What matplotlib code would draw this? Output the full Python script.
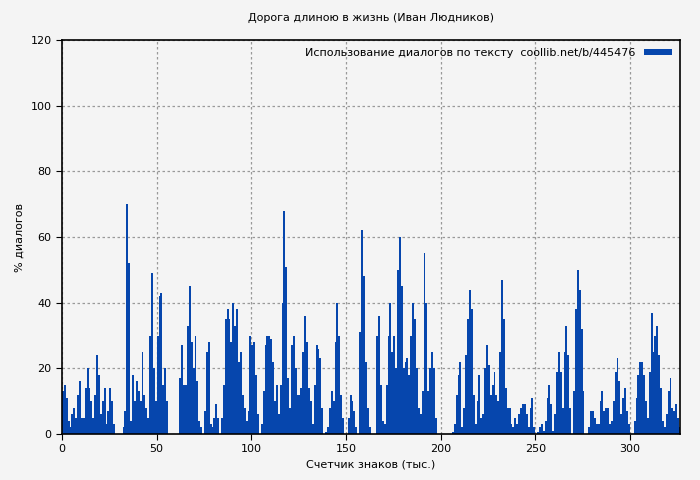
import numpy as np
import matplotlib
matplotlib.use("Agg")
import matplotlib.pyplot as plt

title = "Дорога длиною в жизнь (Иван Людников)"
xlabel = "Счетчик знаков (тыс.)"
ylabel = "% диалогов"
legend_label = "Использование диалогов по тексту  coollib.net/b/445476"

# (start in thousands of characters, values in %)
segments = [
    (0, [13, 15, 11, 4, 2, 6, 8, 5, 12, 16, 5, 5, 14, 20, 14, 10, 5, 12, 24, 18, 6, 10, 14, 3]),
    (24, [7, 14, 10, 3]),
    (32, [2, 7, 70, 52]),
    (36, [4, 18, 10, 16, 13, 10, 25, 12]),
    (44, [8, 5, 30, 49, 20, 10, 30, 42, 43, 15, 20, 10]),
    (62, [17, 27, 15, 15, 33, 45, 28, 20, 30, 16, 4, 2]),
    (75, [7, 25, 28, 3, 2, 5, 9, 5]),
    (84, [5, 15, 35, 38, 35, 28, 40, 33, 38, 22, 25, 12, 8, 4]),
    (98, [7, 30, 27, 28, 18, 6]),
    (105, [3, 13, 27, 30, 30, 29, 22, 10, 15, 6, 15, 40, 68, 51, 17]),
    (120, [8, 27, 30, 20, 12, 12, 14, 25, 36, 28, 14, 10, 3]),
    (133, [15, 27, 26, 23, 8]),
    (139, [0.5, 2, 8, 13, 4]),
    (143, [10, 28, 40, 30, 12, 5]),
    (151, [5, 12, 10, 7, 2]),
    (157, [31, 62, 48, 22, 8, 2]),
    (166, [30, 36, 15, 4]),
    (170, [3, 15, 30, 40, 25, 30, 20, 50, 60, 45, 20, 22, 23, 18, 30, 40, 35, 20, 8, 6, 13, 55, 40, 13, 20, 25, 20, 5]),
    (206, [0.5, 3, 12, 18, 22]),
    (211, [2, 8, 24, 35, 44, 38, 12, 3, 10, 18, 5]),
    (222, [6, 20, 27, 21, 12, 15, 19, 12, 10, 25, 47, 35, 14, 8, 8, 3]),
    (238, [2, 5, 3, 6, 8, 9, 9, 6, 2, 8, 11, 2]),
    (251, [0.5, 2, 3, 1]),
    (255, [4, 11, 15, 9, 1]),
    (260, [6, 19, 25, 19]),
    (264, [8, 25, 33, 24, 8]),
    (270, [13, 38, 50, 44, 32, 13]),
    (278, [2, 7, 7, 5, 3, 3, 10, 13, 7, 8, 8, 3]),
    (290, [4, 10, 19, 23, 16, 6, 11, 14, 7, 3]),
    (302, [4, 11, 18, 22, 22, 18, 10, 5]),
    (310, [19, 37, 25, 30, 33, 24, 14, 4]),
    (318, [2, 6, 13, 17, 8, 7, 9, 5, 2]),
]

values = np.zeros(327)
for start, vals in segments:
    values[start:start + len(vals)] = vals
positions = np.arange(len(values)) + 0.5

bg = "#f4f4f4"
blue = "#0646ad"

fig = plt.figure(figsize=(7, 4.8), dpi=100, facecolor=bg)
ax = fig.add_axes([0.0886, 0.0958, 0.8828, 0.8209], facecolor=bg)
ax.bar(positions, values, width=1.0, color=blue, linewidth=0, label=legend_label, zorder=2)

ax.set_xlim(0, 326.5)
ax.set_ylim(0, 120)
ax.set_xticks(range(0, 301, 50))
ax.set_yticks(range(0, 121, 20))
ax.grid(True, color="#999999", linestyle=(0, (2, 2)), linewidth=0.9, zorder=0)
ax.tick_params(labelsize=8, length=4, direction="out")
for s in ax.spines.values():
    s.set_linewidth(1.2)

ax.set_title(title, fontsize=8, pad=14)
ax.set_xlabel(xlabel, fontsize=8)
ax.set_ylabel(ylabel, fontsize=8)
ax.legend(loc="upper right", frameon=False, fontsize=8, markerfirst=False,
          handlelength=2.5, handleheight=0.5, borderaxespad=0.3)

fig.savefig("out.png", dpi=100, facecolor=bg)
